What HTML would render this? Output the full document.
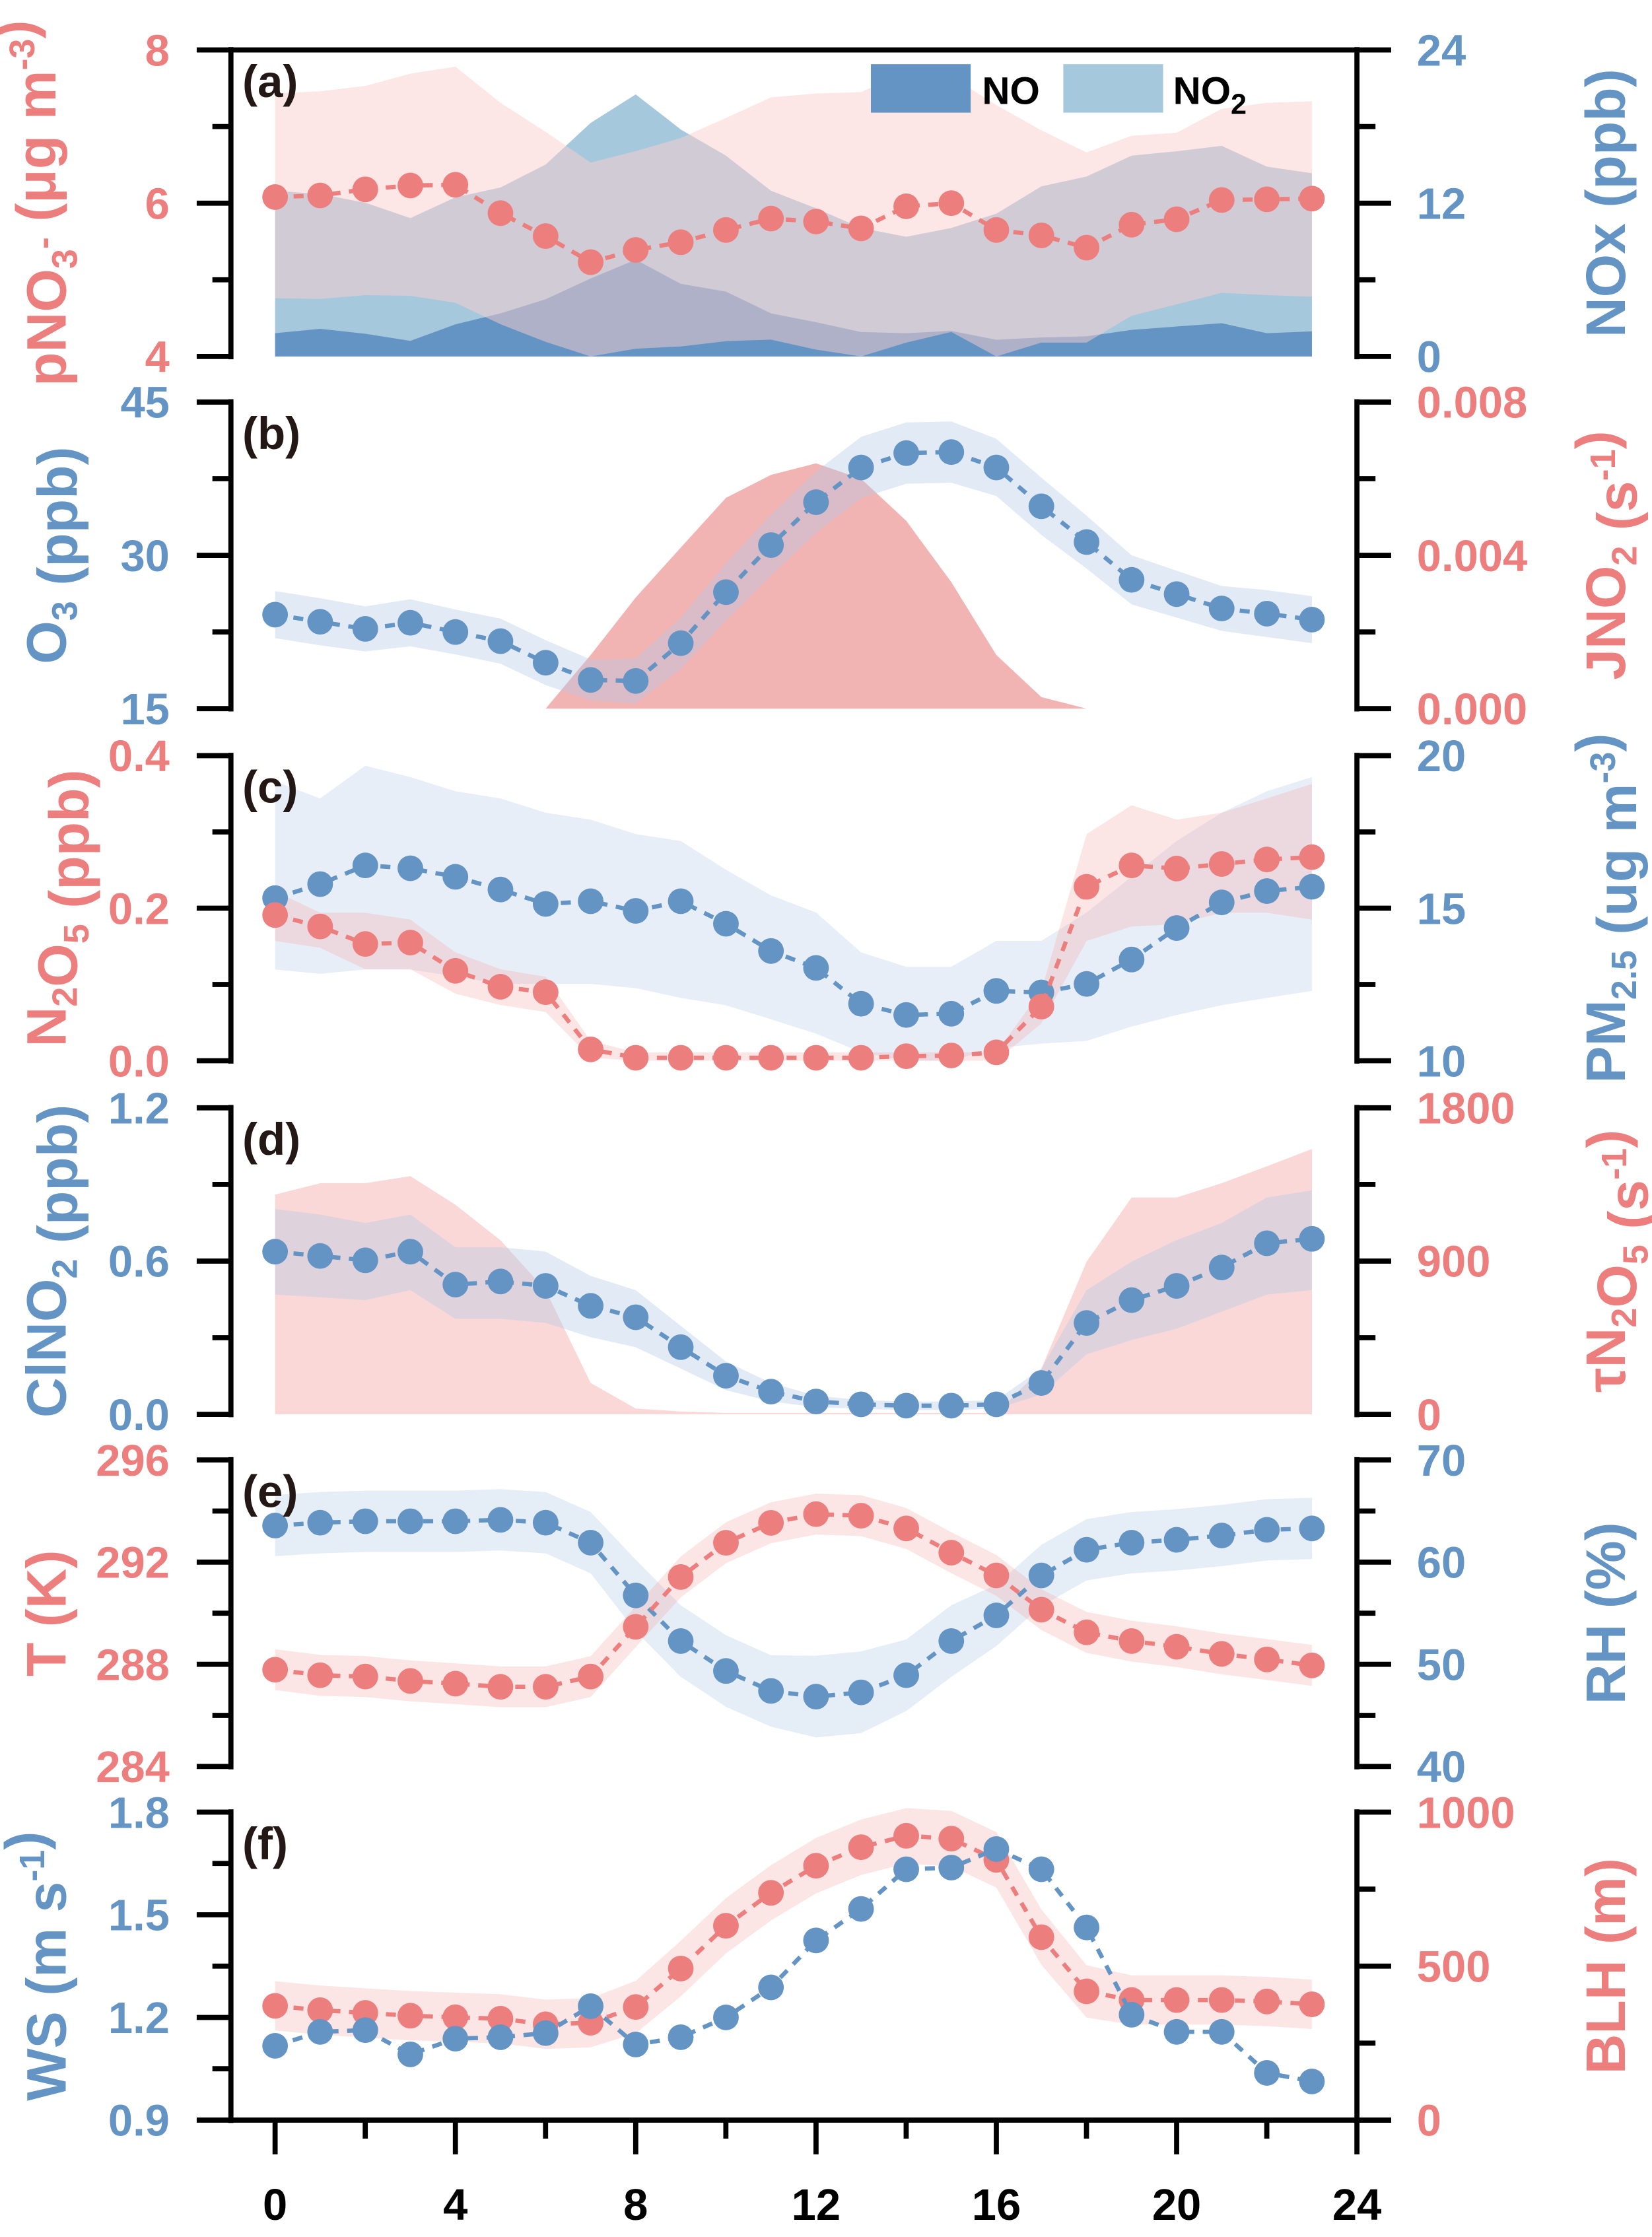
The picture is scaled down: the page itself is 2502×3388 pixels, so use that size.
<!DOCTYPE html>
<html><head><meta charset="utf-8"><title>Diurnal profiles</title>
<style>
html,body{margin:0;padding:0;background:#fff;}
svg{display:block;}
text{font-family:"Liberation Sans",Arial,sans-serif;font-weight:bold;}
</style></head>
<body>
<svg id="chart" xmlns="http://www.w3.org/2000/svg" width="2502" height="3388" viewBox="0 0 1159 1569" preserveAspectRatio="none"></svg>
<script>
// ---------- data ----------
const hours = [0,1,2,3,4,5,6,7,8,9,10,11,12,13,14,15,16,17,18,19,20,21,22,23];
const xTicks = [0,4,8,12,16,20,24];
// (a)
const pno3 = [6.08,6.10,6.18,6.23,6.24,5.87,5.57,5.23,5.39,5.49,5.65,5.80,5.76,5.67,5.96,6.00,5.65,5.58,5.42,5.72,5.79,6.04,6.05,6.06];
const pno3Hi = [7.43,7.46,7.53,7.69,7.78,7.31,6.93,6.53,6.68,6.85,7.11,7.38,7.43,7.45,7.72,7.65,7.28,6.95,6.66,6.88,6.92,7.23,7.31,7.33];
const pno3Lo = [4.76,4.75,4.80,4.79,4.70,4.42,4.19,4.0,4.10,4.13,4.20,4.22,4.09,4.0,4.18,4.32,4.0,4.18,4.18,4.53,4.68,4.83,4.80,4.78];
const noHi = [1.82,2.17,1.77,1.22,2.51,3.37,4.48,6.11,7.57,5.68,5.08,3.37,2.68,1.91,1.82,2.0,1.31,1.48,1.57,2.08,2.34,2.6,1.82,1.96];
const no2Hi = [12.97,12.71,12.03,10.83,12.46,13.23,15.03,18.29,20.52,17.77,15.72,12.97,11.6,10.06,9.37,10.06,11.17,13.32,14.09,15.72,16.06,16.49,14.86,14.34];
// (b)
const o3 = [24.2,23.5,22.8,23.4,22.5,21.6,19.5,17.8,17.7,21.4,26.4,31.0,35.2,38.6,40.0,40.1,38.6,34.8,31.3,27.6,26.2,24.8,24.3,23.7];
const o3Err = [2.3,2.3,2.2,2.3,2.2,2.2,2.2,2.0,2.2,2.5,2.8,3.0,3.0,3.0,3.0,3.0,2.8,2.8,2.6,2.4,2.3,2.2,2.3,2.3];
const jno2 = [0,0,0,0,0,0,0,0.0014,0.0029,0.0042,0.0055,0.0061,0.0064,0.0060,0.0049,0.0033,0.0014,0.0003,0,null,null,null,null,null];
// (c)
const n2o5 = [0.191,0.176,0.153,0.155,0.118,0.097,0.090,0.015,0.004,0.004,0.004,0.004,0.004,0.004,0.006,0.007,0.011,0.071,0.228,0.256,0.252,0.258,0.264,0.267];
const n2o5Hi = [0.222,0.194,0.194,0.185,0.142,0.120,0.110,0.026,0.011,0.011,0.011,0.011,0.011,0.011,0.011,0.011,0.011,0.092,0.297,0.335,0.316,0.325,0.344,0.363];
const n2o5Lo = [0.157,0.148,0.120,0.120,0.088,0.073,0.064,0.004,0,0,0,0,0,0,0,0,0,0.049,0.157,0.176,0.179,0.194,0.194,0.185];
const pm25 = [15.33,15.79,16.40,16.31,16.03,15.61,15.14,15.23,14.91,15.23,14.49,13.60,13.04,11.87,11.50,11.54,12.29,12.24,12.52,13.32,14.35,15.19,15.56,15.70];
const pm25Hi = [19.16,18.6,19.67,19.3,18.83,18.6,18.13,17.9,17.43,17.2,16.26,15.42,14.86,13.55,13.08,13.08,13.93,13.93,14.86,16.03,17.2,18.13,18.83,19.3];
const pm25Lo = [12.99,12.85,12.99,12.99,12.76,12.52,12.52,12.52,12.38,12.06,11.82,11.36,10.89,10.28,10,10,10.42,10.56,10.65,11.12,11.5,11.82,12.06,12.29];
// (d)
const clno2 = [0.637,0.620,0.603,0.637,0.508,0.520,0.503,0.425,0.380,0.263,0.151,0.089,0.050,0.039,0.034,0.034,0.039,0.123,0.358,0.447,0.503,0.575,0.670,0.687];
const clno2Hi = [0.804,0.782,0.749,0.782,0.654,0.654,0.637,0.542,0.486,0.346,0.207,0.123,0.073,0.056,0.050,0.050,0.056,0.179,0.486,0.598,0.682,0.749,0.849,0.877];
const clno2Lo = [0.469,0.458,0.447,0.486,0.374,0.374,0.358,0.302,0.263,0.179,0.095,0.050,0.028,0.022,0.017,0.017,0.022,0.078,0.235,0.291,0.335,0.402,0.469,0.486];
const tauHi = [1290,1357,1357,1399,1231,1022,729,184,34,17,8,8,8,8,8,8,8,268,896,1273,1273,1357,1457,1558];
// (e)
const temp = [287.79,287.57,287.52,287.35,287.24,287.12,287.12,287.52,289.47,291.42,292.76,293.54,293.88,293.82,293.32,292.37,291.48,290.14,289.25,288.91,288.69,288.41,288.19,287.96];
const tempErr = [0.8,0.8,0.8,0.8,0.8,0.8,0.8,0.8,0.8,0.8,0.8,0.8,0.8,0.8,0.8,0.8,0.8,0.8,0.8,0.8,0.8,0.8,0.8,0.8];
const rh = [63.58,63.86,64.0,64.0,64.0,64.14,63.86,61.9,56.74,52.28,49.35,47.39,46.84,47.26,48.93,52.28,54.79,58.7,61.21,61.9,62.18,62.6,63.16,63.3];
const rhErr = [3,3,3,3,3,3,3,3,3.5,3.5,3.5,3.5,4,4,3.5,3.5,3,3,3,3,3,3,3,3];
// (f)
const ws = [1.117,1.158,1.163,1.092,1.138,1.142,1.154,1.233,1.121,1.142,1.2,1.288,1.425,1.517,1.633,1.638,1.692,1.633,1.463,1.208,1.158,1.158,1.038,1.013];
const blh = [371,357,348,339,334,329,311,316,367,492,631,738,826,886,923,914,845,594,418,390,390,390,385,376];
const blhErr = [80,80,80,80,80,80,80,80,85,90,90,90,90,90,90,90,90,90,85,80,80,80,80,80];

// ---------- drawing ----------
const NS = "http://www.w3.org/2000/svg";
const svg = document.getElementById('chart');
const BLUE = "#6494c4", RED = "#ed7e7e";
const XL = 162, XR = 952, X0 = 193, XS = 31.625;
function xs(h){ return X0 + h*XS; }
function mk(tag, attrs, name, parent){
  const el = document.createElementNS(NS, tag);
  for (const k in attrs) el.setAttribute(k, attrs[k]);
  
  
  (parent||svg).appendChild(el);
  return el;
}
function scale(top, bot, mn, mx){ return v => bot - (v-mn)/(mx-mn)*(bot-top); }
function linePts(arr, ys){ const p=[]; arr.forEach((v,i)=>{ if(v!==null) p.push([xs(hours[i]), ys(v)]); }); return p; }
function areaPath(hi, lo, ys){
  const up=[], dn=[];
  hi.forEach((v,i)=>{ if(v!==null) up.push(xs(hours[i]).toFixed(1)+','+ys(v).toFixed(1)); });
  for(let i=lo.length-1;i>=0;i--){ if(lo[i]!==null && hi[i]!==null) dn.push(xs(hours[i]).toFixed(1)+','+ys(lo[i]).toFixed(1)); }
  return 'M'+up.join('L')+'L'+dn.join('L')+'Z';
}
function band(hi, lo, ys, fill, op, name){ return mk('path',{d:areaPath(hi,lo,ys),fill:fill,'fill-opacity':op},name); }
function series(arr, ys, color, name){
  const pts = linePts(arr, ys);
  mk('polyline',{points:pts.map(p=>p[0].toFixed(1)+','+p[1].toFixed(1)).join(' '),fill:'none',stroke:color,'stroke-width':3,'stroke-dasharray':'7 6'}, name+'-line');
  pts.forEach((p,i)=>{ mk('circle',{cx:p[0].toFixed(1),cy:p[1].toFixed(1),r:9,fill:color}, name+'-point'); });
}
function addText(x,y,str,opts,name){
  const t = mk('text',Object.assign({x:x,y:y},opts),name);
  t.innerHTML = str; return t;
}
function axes(p){
  const top=p.top, bot=p.bot;
  mk('line',{x1:XL,y1:top-2,x2:XL,y2:bot+2,stroke:'#000','stroke-width':3.6},p.id+'-left-axis');
  mk('line',{x1:XR,y1:top-2,x2:XR,y2:bot+2,stroke:'#000','stroke-width':3.6},p.id+'-right-axis');
  const yl = scale(top,bot,p.lmin,p.lmax), yr = scale(top,bot,p.rmin,p.rmax);
  p.lTicks.forEach((v,i)=>{
    const y=yl(v);
    mk('line',{x1:XL-24,y1:y,x2:XL,y2:y,stroke:'#000','stroke-width':3.6},p.id+'-left-tick');
    addText(119,y+11,p.lLabels[i],{'font-size':31,fill:p.lColor,'text-anchor':'end'},p.id+'-left-tick-label');
  });
  p.lMinor.forEach(v=>{ const y=yl(v); mk('line',{x1:XL-13,y1:y,x2:XL,y2:y,stroke:'#000','stroke-width':3.6},p.id+'-left-minor-tick'); });
  p.rTicks.forEach((v,i)=>{
    const y=yr(v);
    mk('line',{x1:XR,y1:y,x2:XR+24,y2:y,stroke:'#000','stroke-width':3.6},p.id+'-right-tick');
    addText(994,y+11,p.rLabels[i],{'font-size':31,fill:p.rColor,'text-anchor':'start'},p.id+'-right-tick-label');
  });
  p.rMinor.forEach(v=>{ const y=yr(v); mk('line',{x1:XR,y1:y,x2:XR+13,y2:y,stroke:'#000','stroke-width':3.6},p.id+'-right-minor-tick'); });
  const cy=(top+bot)/2;
  addText(46,cy,p.lTitle,{'font-size':39,fill:p.lColor,'text-anchor':'middle',transform:'rotate(-90 46 '+cy+')'},p.id+'-left-axis-title');
  addText(1140,cy,p.rTitle,{'font-size':39,fill:p.rColor,'text-anchor':'middle',transform:'rotate(-90 1140 '+cy+')'},p.id+'-right-axis-title');
  addText(170,top+33,'('+p.id+')',{'font-size':32,fill:'#231815'},'panel-label-'+p.id);
}
const sub = s => '<tspan font-size="25" dy="8">'+s+'</tspan><tspan dy="-8"></tspan>';
const sup = s => '<tspan font-size="25" dy="-15">'+s+'</tspan><tspan dy="15"></tspan>';

const P = {
 a:{id:'a',top:35,bot:250,lmin:4,lmax:8,rmin:0,rmax:24,lTicks:[4,6,8],lLabels:['4','6','8'],lMinor:[5,7],rTicks:[0,12,24],rLabels:['0','12','24'],rMinor:[6,18],lColor:RED,rColor:BLUE,
   lTitle:'pNO'+sub('3')+sup('-')+' (μg m'+sup('-3')+')',rTitle:'NOx (ppb)'},
 b:{id:'b',top:282,bot:497,lmin:15,lmax:45,rmin:0,rmax:0.008,lTicks:[15,30,45],lLabels:['15','30','45'],lMinor:[22.5,37.5],rTicks:[0,0.004,0.008],rLabels:['0.000','0.004','0.008'],rMinor:[0.002,0.006],lColor:BLUE,rColor:RED,
   lTitle:'O'+sub('3')+' (ppb)',rTitle:'JNO'+sub('2')+' (s'+sup('-1')+')'},
 c:{id:'c',top:530,bot:744,lmin:0,lmax:0.4,rmin:10,rmax:20,lTicks:[0,0.2,0.4],lLabels:['0.0','0.2','0.4'],lMinor:[0.1,0.3],rTicks:[10,15,20],rLabels:['10','15','20'],rMinor:[12.5,17.5],lColor:RED,rColor:BLUE,
   lTitle:'N'+sub('2')+'O'+sub('5')+' (ppb)',rTitle:'PM'+sub('2.5')+' (ug m'+sup('-3')+')'},
 d:{id:'d',top:777,bot:992,lmin:0,lmax:1.2,rmin:0,rmax:1800,lTicks:[0,0.6,1.2],lLabels:['0.0','0.6','1.2'],lMinor:[0.3,0.9],rTicks:[0,900,1800],rLabels:['0','900','1800'],rMinor:[450,1350],lColor:BLUE,rColor:RED,
   lTitle:'ClNO'+sub('2')+' (ppb)',rTitle:'τN'+sub('2')+'O'+sub('5')+' (s'+sup('-1')+')'},
 e:{id:'e',top:1024,bot:1239,lmin:284,lmax:296,rmin:40,rmax:70,lTicks:[284,288,292,296],lLabels:['284','288','292','296'],lMinor:[286,290,294],rTicks:[40,50,60,70],rLabels:['40','50','60','70'],rMinor:[45,55,65],lColor:RED,rColor:BLUE,
   lTitle:'T (K)',rTitle:'RH (%)'},
 f:{id:'f',top:1271,bot:1487,lmin:0.9,lmax:1.8,rmin:0,rmax:1000,lTicks:[0.9,1.2,1.5,1.8],lLabels:['0.9','1.2','1.5','1.8'],lMinor:[1.05,1.35,1.65],rTicks:[0,500,1000],rLabels:['0','500','1000'],rMinor:[250,750],lColor:BLUE,rColor:RED,
   lTitle:'WS (m s'+sup('-1')+')',rTitle:'BLH (m)'}
};
function L(p){ return scale(p.top,p.bot,p.lmin,p.lmax); }
function R(p){ return scale(p.top,p.bot,p.rmin,p.rmax); }
const zeros = hours.map(()=>0);

// panel a
(function(){
  const p=P.a, yl=L(p), yr=R(p);
  band(no2Hi, zeros, yr, '#a6c8dc', 1, 'no2-area');
  band(noHi, zeros, yr, '#6494c4', 1, 'no-area');
  band(pno3Hi, pno3Lo, yl, '#f9cece', 0.5, 'pno3-band');
  series(pno3, yl, RED, 'pno3');
  mk('line',{x1:XL,y1:p.top,x2:XR,y2:p.top,stroke:'#000','stroke-width':3.6},'panel-a-top-border');
  mk('rect',{x:611,y:45,width:70,height:34,fill:'#6494c4'},'legend-no-swatch');
  addText(689,73,'NO',{'font-size':27,fill:'#000'},'legend-no-label');
  mk('rect',{x:746,y:45,width:70,height:34,fill:'#a6c8dc'},'legend-no2-swatch');
  addText(823,73,'NO'+'<tspan font-size="20" dy="7">2</tspan>',{'font-size':27,fill:'#000'},'legend-no2-label');
  axes(p);
})();
// panel b
(function(){
  const p=P.b, yl=L(p), yr=R(p);
  const j=[], z=[];
  jno2.forEach((v,i)=>{ j.push(v); z.push(v===null?null:0); });
  mk('path',{d:areaPath(j.map((v,i)=>i<6?null:v), z.map((v,i)=>i<6?null:v), yr),fill:'#f0a6a6','fill-opacity':0.85},'jno2-area');
  band(o3.map((v,i)=>v+o3Err[i]), o3.map((v,i)=>v-o3Err[i]), yl, '#b4cbe6', 0.4, 'o3-band');
  series(o3, yl, BLUE, 'o3');
  axes(p);
})();
// panel c
(function(){
  const p=P.c, yl=L(p), yr=R(p);
  band(pm25Hi, pm25Lo, yr, '#b4cbe6', 0.32, 'pm25-band');
  band(n2o5Hi, n2o5Lo, yl, '#f5a8a8', 0.3, 'n2o5-band');
  series(pm25, yr, BLUE, 'pm25');
  series(n2o5, yl, RED, 'n2o5');
  axes(p);
})();
// panel d
(function(){
  const p=P.d, yl=L(p), yr=R(p);
  band(tauHi, zeros, yr, '#f5a8a8', 0.45, 'tau-n2o5-area');
  band(clno2Hi, clno2Lo, yl, '#b4cbe6', 0.4, 'clno2-band');
  series(clno2, yl, BLUE, 'clno2');
  axes(p);
})();
// panel e
(function(){
  const p=P.e, yl=L(p), yr=R(p);
  band(rh.map((v,i)=>v+rhErr[i]), rh.map((v,i)=>v-rhErr[i]), yr, '#b4cbe6', 0.35, 'rh-band');
  band(temp.map((v,i)=>v+tempErr[i]), temp.map((v,i)=>v-tempErr[i]), yl, '#f5a8a8', 0.3, 't-band');
  series(rh, yr, BLUE, 'rh');
  series(temp, yl, RED, 'temperature');
  axes(p);
})();
// panel f
(function(){
  const p=P.f, yl=L(p), yr=R(p);
  band(blh.map((v,i)=>v+blhErr[i]), blh.map((v,i)=>v-blhErr[i]), yr, '#f5a8a8', 0.3, 'blh-band');
  series(blh, yr, RED, 'blh');
  series(ws, yl, BLUE, 'ws');
  axes(p);
  mk('line',{x1:XL-2,y1:p.bot,x2:XR+24,y2:p.bot,stroke:'#000','stroke-width':3.6},'x-axis-line');
  xTicks.forEach(h=>{
    mk('line',{x1:xs(h),y1:p.bot,x2:xs(h),y2:p.bot+24,stroke:'#000','stroke-width':3.6},'x-tick');
    addText(xs(h),1557,String(h),{'font-size':31,fill:'#000','text-anchor':'middle'},'x-tick-label');
  });
  [2,6,10,14,18,22].forEach(h=>{
    mk('line',{x1:xs(h),y1:p.bot,x2:xs(h),y2:p.bot+13,stroke:'#000','stroke-width':3.6},'x-minor-tick');
  });
})();
</script>
</body></html>
